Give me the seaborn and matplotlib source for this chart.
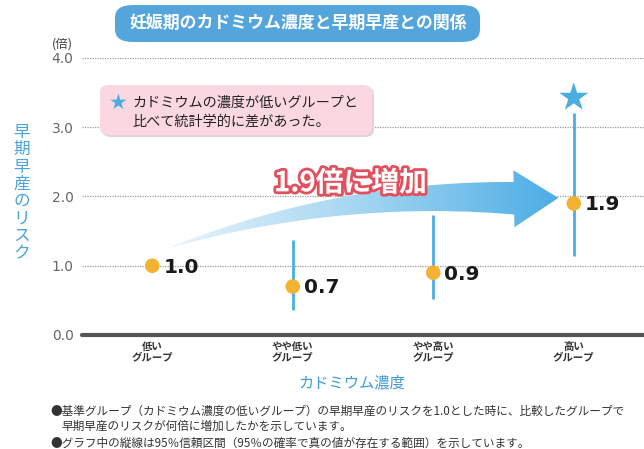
import numpy as np
import pandas as pd
import matplotlib.pyplot as plt
import seaborn as sns
import matplotlib.patheffects as pe
from matplotlib.patches import FancyArrowPatch, FancyBboxPatch
from matplotlib.colors import LinearSegmentedColormap

# data
groups = ['低い\nグループ', 'やや低い\nグループ', 'やや高い\nグループ', '高い\nグループ']
risk = [1.0, 0.7, 0.9, 1.9]
ci_low = [np.nan, 0.36, 0.52, 1.14]
ci_high = [np.nan, 1.37, 1.73, 3.20]
significant = [False, False, False, True]
value_labels = ['1.0', '0.7', '0.9', '1.9']
yticks = [0.0, 1.0, 2.0, 3.0, 4.0]

sns.set_theme(style='white')
plt.rcParams['font.family'] = ['Noto Sans CJK JP', 'DejaVu Sans']

df = pd.DataFrame({'group': groups, 'risk': risk, 'lo': ci_low, 'hi': ci_high,
                   'sig': significant, 'label': value_labels})
df['x'] = np.arange(len(df))

W, H = 644, 449
fig = plt.figure(figsize=(W / 100, H / 100), dpi=100)
ax = fig.add_axes([82 / W, 1 - 335 / H, 1 - 82 / W, (335 - 58) / H])

blue = '#4AAEE3'
orange = '#F3B232'

# big curved arrow: tapered tail (wedge drawn backwards) + head, filled with a gradient
tail = FancyArrowPatch((2.68, 1.965), (0.08, 1.23), connectionstyle='arc3,rad=0.10',
                       arrowstyle='wedge,tail_width=24,shrink_factor=0.55',
                       mutation_scale=1, facecolor='none', edgecolor='none', zorder=1)
head = FancyArrowPatch((2.50, 1.965), (2.91, 1.98), connectionstyle='arc3,rad=0',
                       arrowstyle='simple,head_length=32,head_width=41,tail_width=1',
                       mutation_scale=1, facecolor='none', edgecolor='none', zorder=1)
ax.add_patch(tail)
ax.add_patch(head)
grad = np.linspace(0, 1, 256).reshape(1, -1)
cmap = LinearSegmentedColormap.from_list('arr', ['#EEF7FD', '#A3D5F1', '#45AAE4'])
for patch in (tail, head):
    im = ax.imshow(grad, extent=(0.0, 3.0, 1.0, 2.7), aspect='auto', cmap=cmap, zorder=2)
    im.set_clip_path(patch)

ax.text(1.41, 2.19, '1.9倍に増加', fontsize=20, fontweight='bold', color='white',
        ha='center', va='center', zorder=6,
        path_effects=[pe.withStroke(linewidth=4, foreground='#E2505E')])

# confidence intervals
ci = df.dropna(subset=['lo'])
ax.vlines(ci['x'], ci['lo'], ci['hi'], color=blue, lw=2, zorder=3)

# points
sns.scatterplot(data=df, x='x', y='risk', color=orange, s=110, edgecolor='none',
                zorder=5, ax=ax, legend=False)
for _, r in df.iterrows():
    ax.annotate(r['label'], (r['x'], r['risk']), xytext=(8, -1), textcoords='offset points',
                va='center', ha='left', fontsize=14.5, fontweight='bold', color='#1a1a1a',
                family='DejaVu Sans', zorder=6)

# significance star
sig = df[df['sig']]
ax.scatter(sig['x'], sig['hi'] + 0.23, marker='*', s=480, color=blue, zorder=5,
           edgecolor='none', clip_on=False)

ax.set_xlim(-0.5, 3.5)
ax.set_ylim(0, 4)
ax.set_yticks(yticks)
ax.set_yticklabels([f'{v:.1f}' for v in yticks], fontsize=10, color='#666666',
                   family='DejaVu Sans')
ax.set_xticks(df['x'])
ax.set_xticklabels(groups, fontsize=7.5, fontweight='bold', color='#333333', linespacing=1.0)
ax.tick_params(axis='both', length=0)
ax.tick_params(axis='y', pad=6)
ax.tick_params(axis='x', pad=5)
ax.set_xlabel('')
ax.set_ylabel('')
ax.yaxis.grid(True, linestyle=(0, (1, 1)), color='#9a9a9a', lw=0.9)
ax.xaxis.grid(False)
for s in ax.spines.values():
    s.set_visible(False)
ax.axhline(0, color='#555555', lw=3, zorder=4, clip_on=False)

# title box
fig.patches.append(FancyBboxPatch((115 / W, 1 - 42 / H), 365 / W, 37 / H,
                                  boxstyle='round,pad=0,rounding_size=0.028',
                                  transform=fig.transFigure, facecolor='#55A5DD',
                                  edgecolor='none'))
fig.text(298 / W, 1 - 23 / H, '妊娠期のカドミウム濃度と早期早産との関係', fontsize=12.2,
         fontweight='bold', color='white', ha='center', va='center')

# note box
fig.patches.append(FancyBboxPatch((102 / W, 1 - 137 / H), 272 / W, 50 / H,
                                  boxstyle='round,pad=0,rounding_size=0.015',
                                  transform=fig.transFigure, facecolor='#E6D3D8',
                                  edgecolor='none'))
fig.patches.append(FancyBboxPatch((100 / W, 1 - 135 / H), 272 / W, 50 / H,
                                  boxstyle='round,pad=0,rounding_size=0.015',
                                  transform=fig.transFigure, facecolor='#FAD7E1',
                                  edgecolor='none'))
fig.text(118 / W, 1 - 103 / H, '★', fontsize=15, color=blue, ha='center', va='center',
         family='DejaVu Sans')
fig.text(132 / W, 1 - 103 / H, 'カドミウムの濃度が低いグループと', fontsize=10.2,
         color='#222222', ha='left', va='center')
fig.text(132 / W, 1 - 122 / H, '比べて統計学的に差があった。', fontsize=10.2,
         color='#222222', ha='left', va='center')

# axis labels
fig.text(62 / W, 1 - 44 / H, '(倍)', fontsize=9, color='#444444', ha='center', va='center')
fig.text(22 / W, 1 - 193 / H, '\n'.join('早期早産のリスク'), fontsize=12, color='#4AA3DC',
         ha='center', va='center', linespacing=1.02)
fig.text(352 / W, 1 - 383 / H, 'カドミウム濃度', fontsize=11, color='#3E9BD6',
         ha='center', va='center')

# footnotes
fig.text(50 / W, 1 - 411 / H,
         '●基準グループ（カドミウム濃度の低いグループ）の早期早産のリスクを1.0とした時に、比較したグループで',
         fontsize=8.4, color='#333333', ha='left', va='center')
fig.text(61 / W, 1 - 426 / H, '早期早産のリスクが何倍に増加したかを示しています。',
         fontsize=8.4, color='#333333', ha='left', va='center')
fig.text(50 / W, 1 - 443 / H,
         '●グラフ中の縦線は95％信頼区間（95％の確率で真の値が存在する範囲）を示しています。',
         fontsize=8.4, color='#333333', ha='left', va='center')

fig.savefig('out.png', dpi=100)
